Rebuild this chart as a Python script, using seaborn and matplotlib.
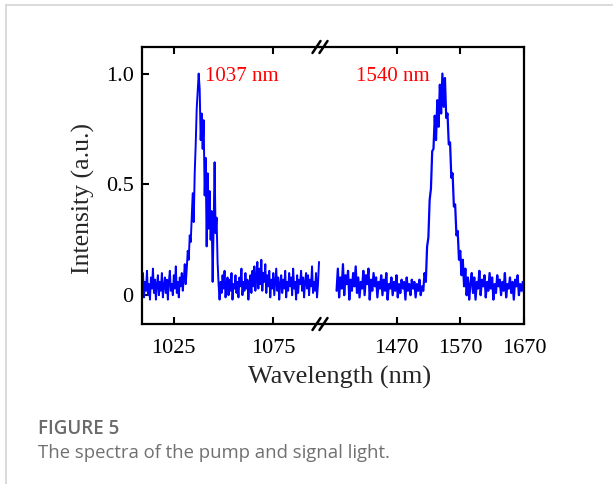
import numpy as np
import pandas as pd
import seaborn as sns
import matplotlib
matplotlib.use("Agg")
import matplotlib.pyplot as plt
from matplotlib.lines import Line2D

sns.set_theme(style="ticks")
plt.rcParams["font.family"] = ["Liberation Serif", "DejaVu Serif"]

# pump spectrum (left panel), sampled every 0.5 nm
pump_wl_start, pump_wl_stop = 1009, 1098
pump_intensity = [
    0.04, 0.10, -0.01, 0.06, 0.02, 0.11, 0.00, 0.05, -0.02, 0.08,
    0.03, 0.12, 0.01, 0.07, -0.02, 0.05, 0.09, 0.00, 0.06, 0.02,
    0.10, -0.01, 0.04, 0.08, 0.01, 0.07, -0.02, 0.06, 0.11, 0.02,
    0.05, 0.00, 0.09, 0.03, 0.13, 0.01, 0.06, -0.01, 0.08, 0.04,
    0.10, 0.02, 0.07, 0.14, 0.05,
    0.12, 0.20, 0.16, 0.27, 0.24, 0.35, 0.46, 0.33, 0.55, 0.68,
    0.84, 0.92, 1.00, 0.93, 0.70, 0.82, 0.66, 0.79, 0.45, 0.62,
    0.22, 0.55, 0.30, 0.47, 0.25, 0.38, 0.06, 0.30, 0.60, 0.28,
    0.35, 0.15, 0.05,
    -0.02, 0.06, 0.01, 0.09, 0.03, 0.11, -0.01, 0.05, 0.08, 0.00,
    0.07, 0.02, 0.10, -0.02, 0.05, 0.03, 0.09, 0.01, 0.06, -0.01,
    0.08, 0.04, 0.12, 0.00, 0.06, 0.02, 0.10, 0.03, 0.07, -0.02,
    0.05, 0.09, 0.01, 0.11, 0.04, 0.13, 0.02, 0.08, 0.15, 0.03,
    0.12, 0.05, 0.16, 0.02, 0.10, 0.06, 0.14, 0.01, 0.09, 0.04,
    0.11, -0.01, 0.07, 0.03, 0.10, 0.00, 0.06, 0.12, 0.02, 0.08,
    -0.02, 0.05, 0.09, 0.01, 0.07, 0.03, 0.11, -0.01, 0.06, 0.02,
    0.10, 0.04, 0.08, 0.00, 0.12, 0.03, 0.06, -0.02, 0.09, 0.01,
    0.07, 0.05, 0.11, 0.02, 0.08, -0.01, 0.06, 0.10, 0.03, 0.09,
    0.00, 0.07, 0.04, 0.13, 0.01, 0.06, 0.02, 0.10, -0.01, 0.05,
    0.15,
]

# signal spectrum (right panel), sampled every 2 nm
signal_wl_start, signal_wl_stop = 1376, 1670
signal_intensity = [
    0.02, 0.12, -0.01, 0.08, 0.03, 0.14, 0.00, 0.09, 0.05, 0.11,
    -0.02, 0.07, 0.02, 0.10, 0.04, 0.13, 0.01, 0.08, -0.01, 0.06,
    0.03, 0.11, 0.00, 0.09, 0.05, 0.12, -0.02, 0.07, 0.02, 0.10,
    0.04, 0.08, -0.01, 0.06, 0.03, 0.09, 0.00, 0.07, 0.02, 0.10,
    -0.02, 0.05, 0.03, 0.08, 0.00, 0.06, 0.02, 0.09, -0.01, 0.05,
    0.01, 0.07, 0.03, 0.06, -0.02, 0.08, 0.02, 0.05, 0.00, 0.07,
    0.03, 0.06, -0.01, 0.05, 0.02, 0.07, 0.00, 0.04, 0.02, 0.10,
    0.06, 0.22, 0.26, 0.43, 0.48, 0.65, 0.66, 0.81, 0.70, 0.88,
    0.76, 0.95, 0.82, 1.00, 0.85, 0.98, 0.80, 0.82, 0.68, 0.69,
    0.53, 0.55, 0.40, 0.41, 0.27, 0.29, 0.16, 0.20, 0.09, 0.16,
    0.04, 0.12, 0.00, 0.08, -0.02,
    0.05, 0.10, 0.01, 0.08, -0.02, 0.06, 0.03, 0.11, 0.00, 0.07,
    0.04, 0.09, -0.01, 0.06, 0.02, 0.10, 0.03, 0.08, -0.02, 0.05,
    0.01, 0.09, 0.04, 0.07, 0.00, 0.06, 0.02, 0.10, -0.01, 0.05,
    0.03, 0.08, 0.01, 0.06, -0.02, 0.07, 0.04, 0.09, 0.00, 0.05,
    0.02, 0.06, 0.01,
]

left_ticks = [1025, 1075]
right_ticks = [1470, 1570, 1670]
y_ticks = [0, 0.5, 1.0]
y_ticklabels = ["0", "0.5", "1.0"]

pump = pd.DataFrame({
    "wl": np.linspace(pump_wl_start, pump_wl_stop, len(pump_intensity)),
    "I": pump_intensity,
})
signal = pd.DataFrame({
    "wl": np.linspace(signal_wl_start, signal_wl_stop, len(signal_intensity)),
    "I": signal_intensity,
})

W, H = 613, 484
fig = plt.figure(figsize=(W / 100, H / 100), dpi=100)
ax1 = fig.add_axes([142 / W, 1 - 324 / H, 178 / W, 277 / H])
ax2 = fig.add_axes([320 / W, 1 - 324 / H, 204 / W, 277 / H], sharey=ax1)

sns.lineplot(data=pump, x="wl", y="I", ax=ax1, color="#0000ff", lw=1.4, estimator=None)
sns.lineplot(data=signal, x="wl", y="I", ax=ax2, color="#0000ff", lw=1.6, estimator=None)

ax1.set_xlim(1009, 1098.5)
ax2.set_xlim(1350, 1670)
ax1.set_ylim(-0.13, 1.12)

for ax in (ax1, ax2):
    for s in ax.spines.values():
        s.set_linewidth(1.6)
        s.set_color("black")
    ax.tick_params(direction="in", top=True, length=5, width=1.5,
                   labelsize=16, pad=11, colors="black")
    ax.set_xlabel("")
    ax.set_ylabel("")

ax1.spines["right"].set_visible(False)
ax2.spines["left"].set_visible(False)
ax1.tick_params(right=False)
ax2.tick_params(left=False, labelleft=False, right=False)

ax1.set_xticks(left_ticks)
ax2.set_xticks(right_ticks)
ax1.set_yticks(y_ticks)
ax1.set_yticklabels(y_ticklabels)
ax1.tick_params(axis="y", pad=6)

ax1.text(1040.5, 0.985, "1037 nm", color="#ff0000", fontsize=15, ha="left", va="center")
ax2.text(1464, 0.985, "1540 nm", color="#ff0000", fontsize=15, ha="center", va="center")

fig.text(340 / W, 1 - 377 / H, "Wavelength (nm)", fontsize=19, ha="center", va="center")
fig.text(83 / W, 1 - 198 / H, "Intensity (a.u.)", fontsize=18.5, ha="center", va="center",
         rotation=90)

# axis break marks
for yb in (47, 324):
    for dx in (-3.5, 3.5):
        x0 = (320 + dx - 4) / W
        x1 = (320 + dx + 4) / W
        fig.add_artist(Line2D([x0, x1], [1 - (yb + 6) / H, 1 - (yb - 6) / H],
                              color="black", lw=1.8))

# caption and page frame
fig.add_artist(Line2D([6 / W, 1], [1 - 5 / H, 1 - 5 / H], color="#d4d4d4", lw=1.2))
fig.add_artist(Line2D([6 / W, 6 / W], [0, 1 - 5 / H], color="#d4d4d4", lw=1.2))
fig.text(38 / W, 1 - 429 / H, "FIGURE 5", fontsize=13.5, fontweight="semibold",
         family=["Open Sans", "DejaVu Sans"], color="#6a6a6a", va="center")
fig.text(38 / W, 1 - 453 / H, "The spectra of the pump and signal light.", fontsize=13.3,
         family=["Open Sans", "DejaVu Sans"], color="#707070", va="center")

fig.savefig("out.png", dpi=100)
